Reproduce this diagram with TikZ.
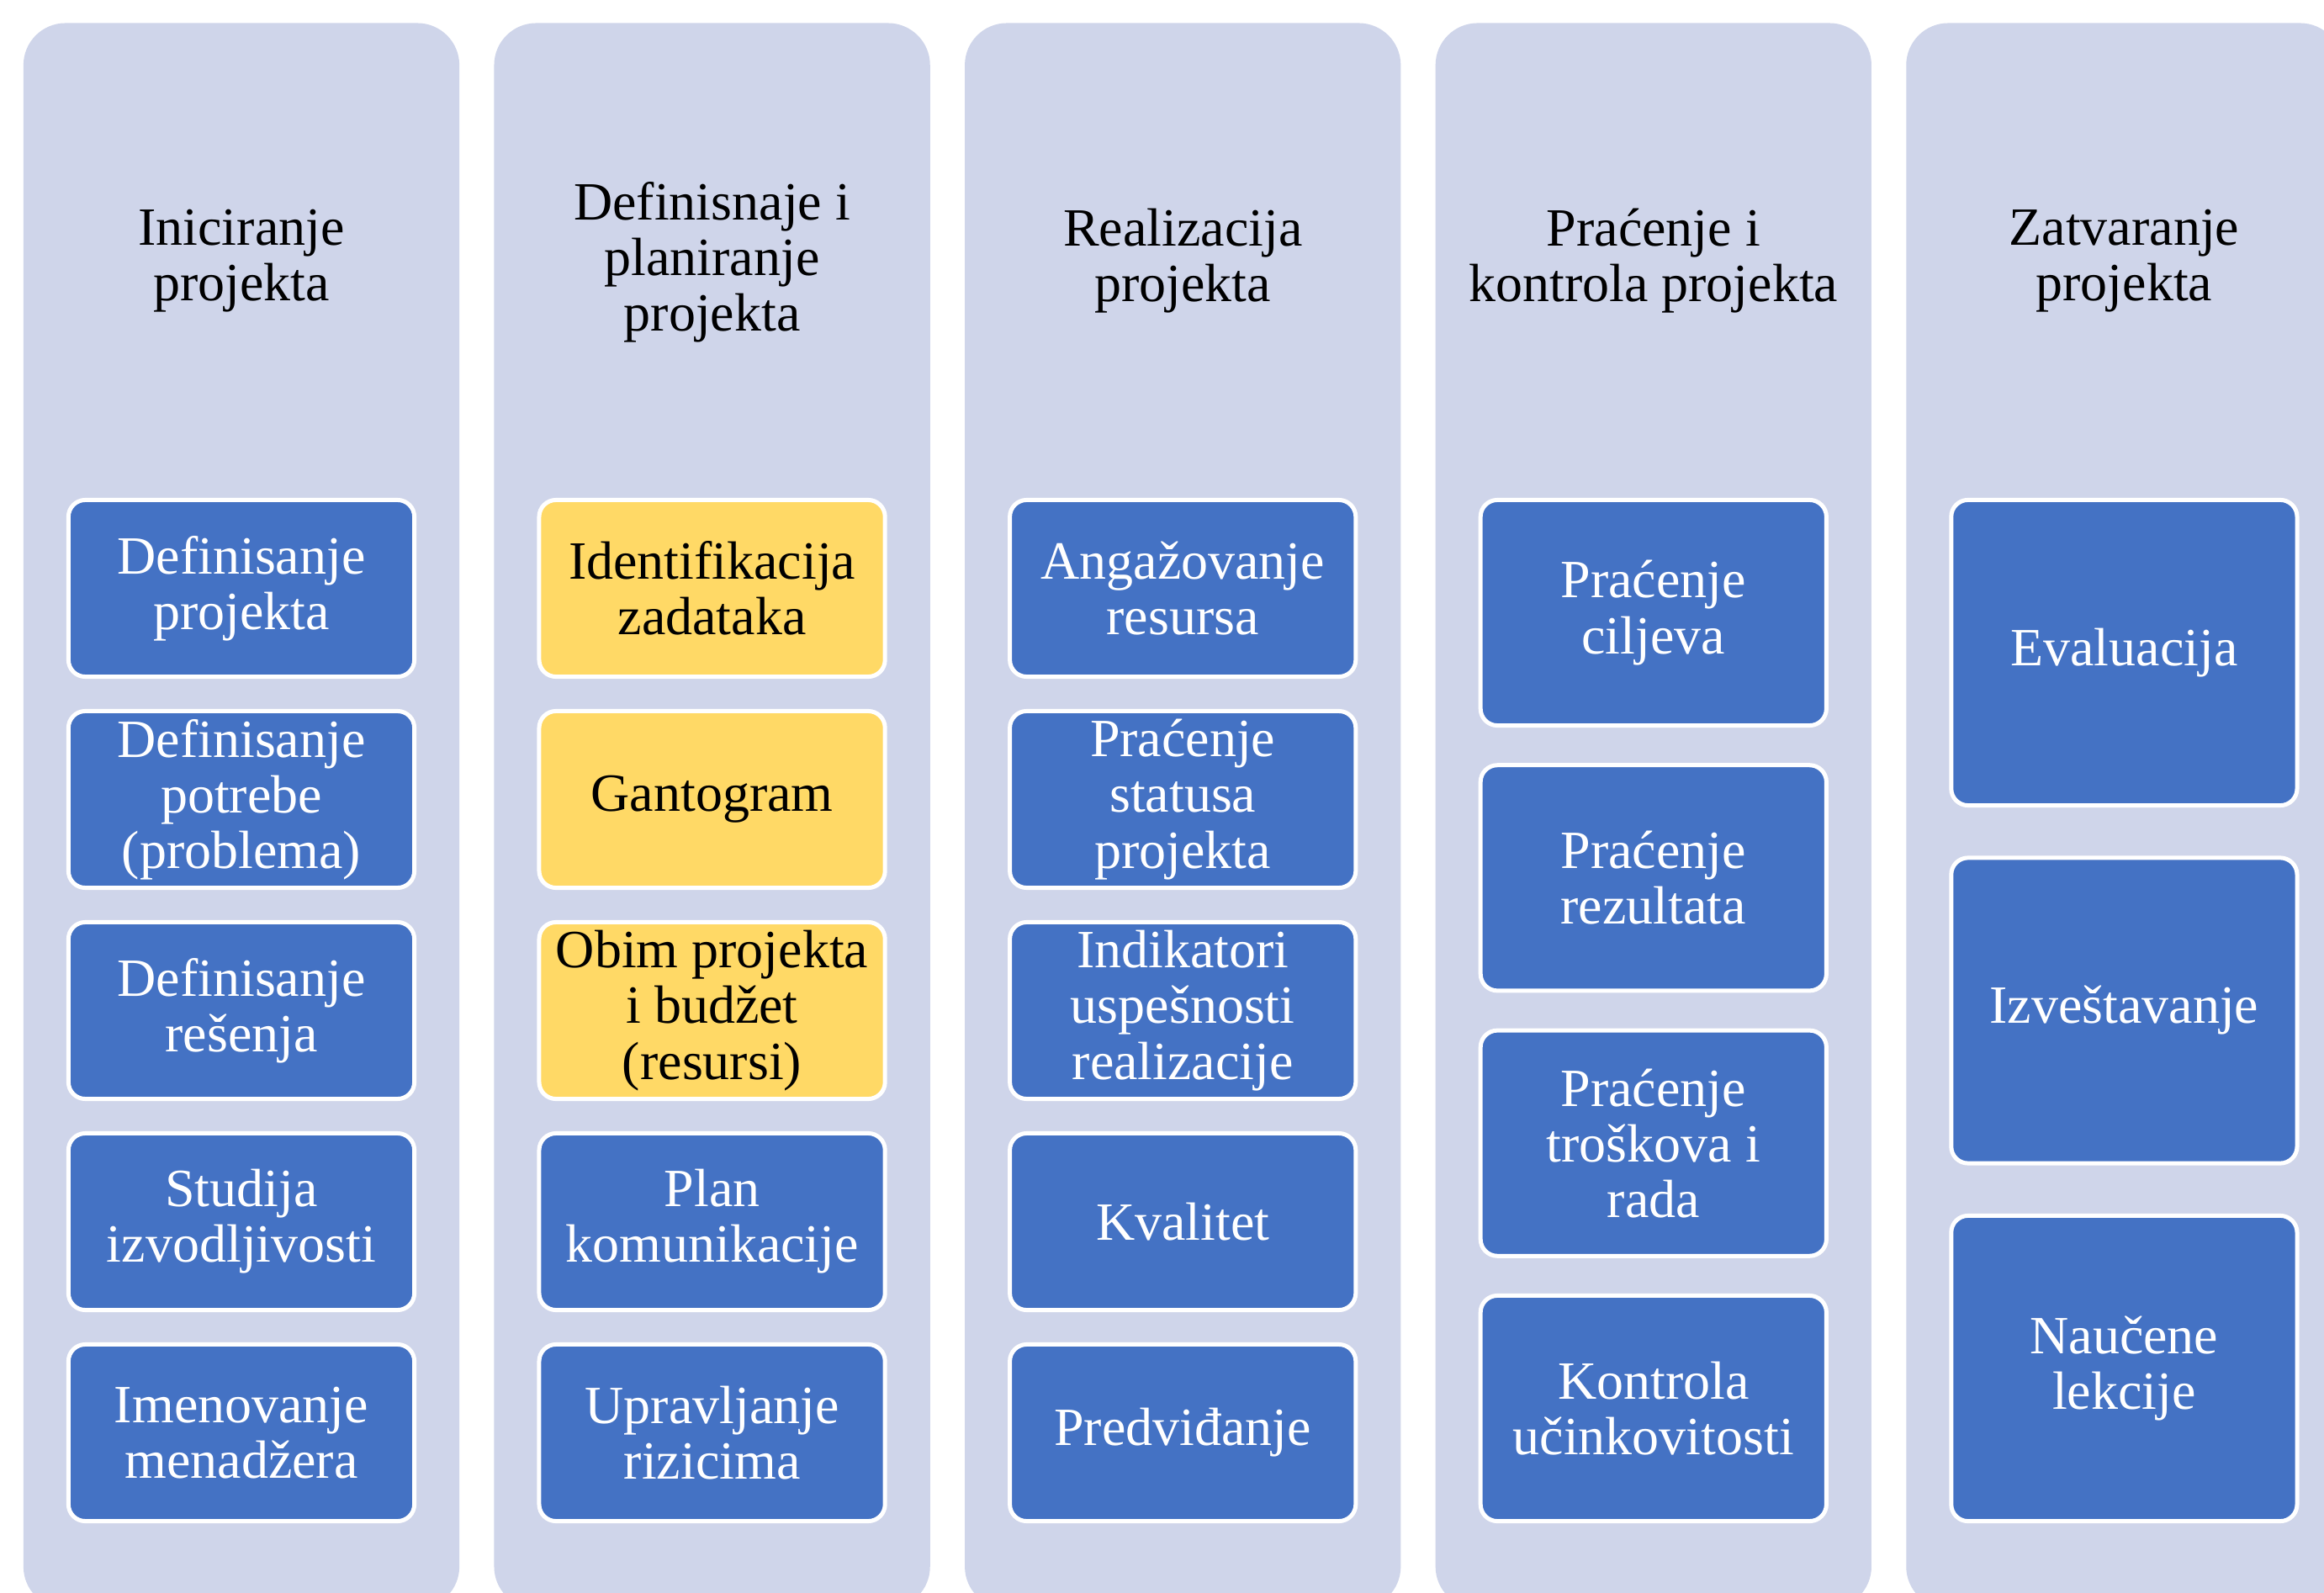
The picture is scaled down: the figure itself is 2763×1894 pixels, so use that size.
\documentclass[tikz,border=0pt]{standalone}
\usepackage{fontspec}
\setmainfont{Liberation Serif}
\definecolor{phasebg}{HTML}{CFD5EA}
\definecolor{taskblue}{HTML}{4472C4}
\definecolor{taskgold}{HTML}{FFD966}
\newcommand\cellfont{\fontsize{18.2pt}{18.8pt}\selectfont}
\tikzset{
  phase/.style={fill=phasebg, draw=none, rounded corners=0.5cm,
    minimum width=5.18cm, minimum height=18.84cm, inner sep=0pt},
  phasetitle/.style={align=center, font=\cellfont, text=black, inner sep=0pt},
  task/.style={draw=white, line width=0.05cm, rounded corners=0.2cm,
    minimum width=4.11cm, align=center, font=\cellfont, inner sep=0pt,
    fill=taskblue, text=white},
  gold/.style={task, fill=taskgold, text=black},
  h5/.style={minimum height=2.10cm},
  h4/.style={minimum height=2.68cm},
  h3/.style={minimum height=3.63cm}
}
\begin{document}
\begin{tikzpicture}[x=0.01cm, y=-0.01cm]
\clip (0,0) rectangle (2763,1894);
\fill[white] (0,0) rectangle (2763,1894);

% phase columns
\node[phase] (c1) at (287,970) {};
\node[phase] (c2) at (846.6,970) {};
\node[phase] (c3) at (1406.2,970) {};
\node[phase] (c4) at (1965.8,970) {};
\node[phase] (c5) at (2525.4,970) {};

% phase titles
\node[phasetitle] (t1) at (287,310) {Iniciranje\\projekta};
\node[phasetitle] (t2) at (846.6,312) {Definisnaje i\\planiranje\\projekta};
\node[phasetitle] (t3) at (1406.2,310) {Realizacija\\projekta};
\node[phasetitle] (t4) at (1965.8,310) {Praćenje i\\kontrola projekta};
\node[phasetitle] (t5) at (2525.4,310) {Zatvaranje\\projekta};

% Iniciranje
\node[task,h5] (a1) at (287,699.5) {Definisanje\\projekta};
\node[task,h5] (a2) at (287,950.5) {Definisanje\\potrebe\\(problema)};
\node[task,h5] (a3) at (287,1201.5) {Definisanje\\rešenja};
\node[task,h5] (a4) at (287,1452.5) {Studija\\izvodljivosti};
\node[task,h5] (a5) at (287,1703.5) {Imenovanje\\menadžera};

% Definisanje i planiranje
\node[gold,h5] (b1) at (846.6,699.5) {Identifikacija\\zadataka};
\node[gold,h5] (b2) at (846.6,950.5) {Gantogram};
\node[gold,h5] (b3) at (846.6,1201.5) {Obim projekta\\i budžet\\(resursi)};
\node[task,h5] (b4) at (846.6,1452.5) {Plan\\komunikacije};
\node[task,h5] (b5) at (846.6,1703.5) {Upravljanje\\rizicima};

% Realizacija
\node[task,h5] (r1) at (1406.2,699.5) {Angažovanje\\resursa};
\node[task,h5] (r2) at (1406.2,950.5) {Praćenje\\statusa\\projekta};
\node[task,h5] (r3) at (1406.2,1201.5) {Indikatori\\uspešnosti\\realizacije};
\node[task,h5] (r4) at (1406.2,1452.5) {Kvalitet};
\node[task,h5] (r5) at (1406.2,1703.5) {Predviđanje};

% Praćenje i kontrola
\node[task,h4] (k1) at (1965.8,728.5) {Praćenje\\ciljeva};
\node[task,h4] (k2) at (1965.8,1043.8) {Praćenje\\rezultata};
\node[task,h4] (k3) at (1965.8,1359.2) {Praćenje\\troškova i\\rada};
\node[task,h4] (k4) at (1965.8,1674.5) {Kontrola\\učinkovitosti};

% Zatvaranje
\node[task,h3] (z1) at (2525.4,776) {Evaluacija};
\node[task,h3] (z2) at (2525.4,1201.5) {Izveštavanje};
\node[task,h3] (z3) at (2525.4,1627) {Naučene\\lekcije};
\end{tikzpicture}
\end{document}
